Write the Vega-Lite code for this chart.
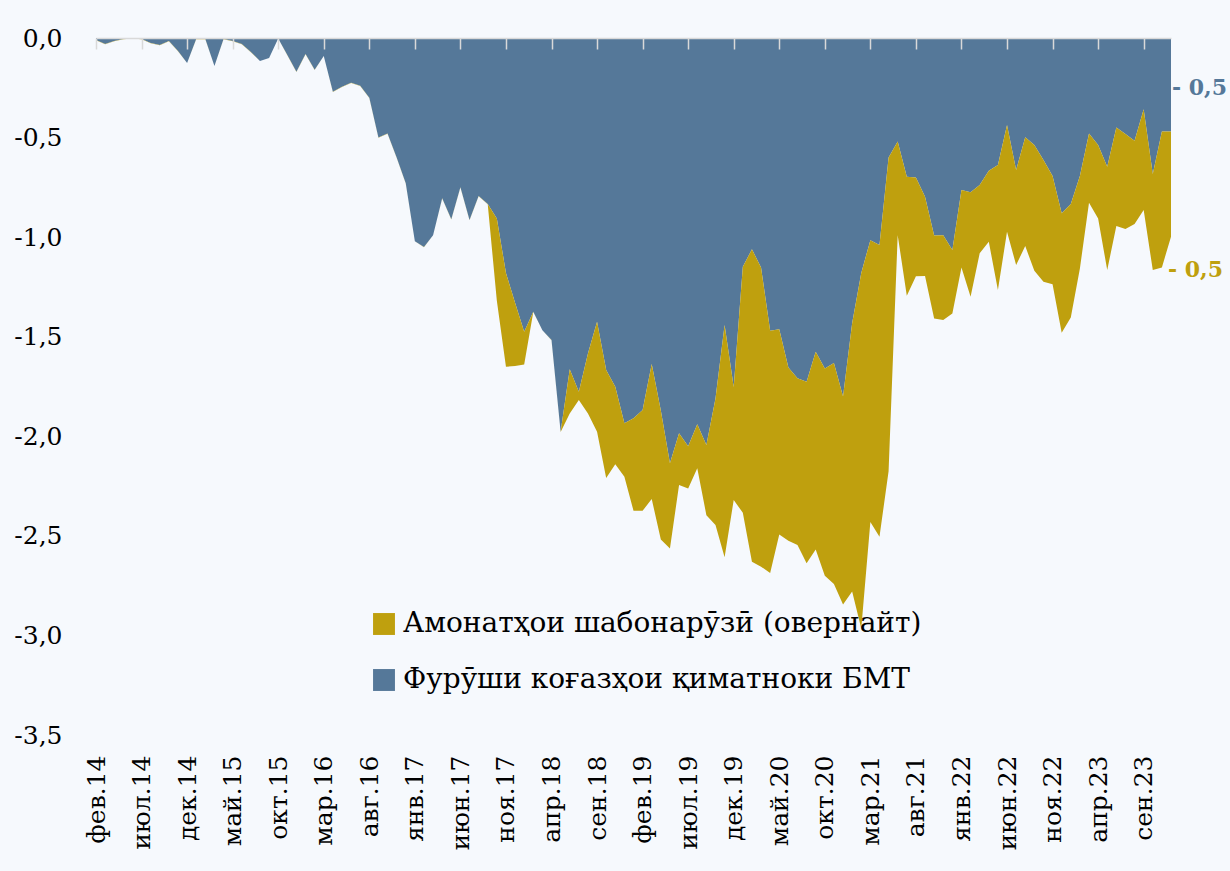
{
  "$schema": "https://vega.github.io/schema/vega-lite/v6.json",
  "width": 1075,
  "height": 697,
  "autosize": {"type": "none"},
  "padding": {"left": 96, "top": 38, "right": 59, "bottom": 136},
  "background": "#f6f9fd",
  "config": {"view": {"stroke": null}, "font": "DejaVu Serif"},
  "datasets": {
    "m": [
      {"d": "фев.14", "blue": -0.01, "gold": -0.001},
      {"d": "мар.14", "blue": -0.03, "gold": -0.001},
      {"d": "апр.14", "blue": -0.015, "gold": -0.001},
      {"d": "май.14", "blue": -0.005, "gold": -0.001},
      {"d": "июн.14", "blue": -0.002, "gold": -0.001},
      {"d": "июл.14", "blue": -0.005, "gold": -0.001},
      {"d": "авг.14", "blue": -0.025, "gold": -0.001},
      {"d": "сен.14", "blue": -0.035, "gold": -0.001},
      {"d": "окт.14", "blue": -0.015, "gold": -0.001},
      {"d": "ноя.14", "blue": -0.065, "gold": -0.001},
      {"d": "дек.14", "blue": -0.125, "gold": -0.001},
      {"d": "янв.15", "blue": -0.005, "gold": -0.001},
      {"d": "фев.15", "blue": -0.005, "gold": -0.001},
      {"d": "мар.15", "blue": -0.14, "gold": -0.001},
      {"d": "апр.15", "blue": -0.005, "gold": -0.001},
      {"d": "май.15", "blue": -0.015, "gold": -0.001},
      {"d": "июн.15", "blue": -0.03, "gold": -0.001},
      {"d": "июл.15", "blue": -0.07, "gold": -0.001},
      {"d": "авг.15", "blue": -0.115, "gold": -0.001},
      {"d": "сен.15", "blue": -0.1, "gold": -0.001},
      {"d": "окт.15", "blue": -0.002, "gold": -0.001},
      {"d": "ноя.15", "blue": -0.085, "gold": -0.001},
      {"d": "дек.15", "blue": -0.17, "gold": -0.001},
      {"d": "янв.16", "blue": -0.08, "gold": -0.001},
      {"d": "фев.16", "blue": -0.16, "gold": -0.001},
      {"d": "мар.16", "blue": -0.09, "gold": -0.001},
      {"d": "апр.16", "blue": -0.27, "gold": -0.001},
      {"d": "май.16", "blue": -0.245, "gold": -0.001},
      {"d": "июн.16", "blue": -0.225, "gold": -0.001},
      {"d": "июл.16", "blue": -0.24, "gold": -0.001},
      {"d": "авг.16", "blue": -0.3, "gold": -0.001},
      {"d": "сен.16", "blue": -0.5, "gold": -0.001},
      {"d": "окт.16", "blue": -0.48, "gold": -0.001},
      {"d": "ноя.16", "blue": -0.6, "gold": -0.001},
      {"d": "дек.16", "blue": -0.73, "gold": -0.001},
      {"d": "янв.17", "blue": -1.02, "gold": -0.001},
      {"d": "фев.17", "blue": -1.05, "gold": -0.001},
      {"d": "мар.17", "blue": -0.99, "gold": -0.001},
      {"d": "апр.17", "blue": -0.805, "gold": -0.001},
      {"d": "май.17", "blue": -0.91, "gold": -0.001},
      {"d": "июн.17", "blue": -0.75, "gold": -0.001},
      {"d": "июл.17", "blue": -0.914, "gold": -0.001},
      {"d": "авг.17", "blue": -0.794, "gold": -0.001},
      {"d": "сен.17", "blue": -0.834, "gold": -0.001},
      {"d": "окт.17", "blue": -0.906, "gold": -0.414},
      {"d": "ноя.17", "blue": -1.18, "gold": -0.471},
      {"d": "дек.17", "blue": -1.33, "gold": -0.317},
      {"d": "янв.18", "blue": -1.475, "gold": -0.165},
      {"d": "фев.18", "blue": -1.375, "gold": -0.001},
      {"d": "мар.18", "blue": -1.467, "gold": -0.001},
      {"d": "апр.18", "blue": -1.517, "gold": -0.001},
      {"d": "май.18", "blue": -1.977, "gold": -0.001},
      {"d": "июн.18", "blue": -1.664, "gold": -0.221},
      {"d": "июл.18", "blue": -1.776, "gold": -0.042},
      {"d": "авг.18", "blue": -1.584, "gold": -0.301},
      {"d": "сен.18", "blue": -1.425, "gold": -0.552},
      {"d": "окт.18", "blue": -1.667, "gold": -0.543},
      {"d": "ноя.18", "blue": -1.751, "gold": -0.389},
      {"d": "дек.18", "blue": -1.935, "gold": -0.268},
      {"d": "янв.19", "blue": -1.91, "gold": -0.464},
      {"d": "фев.19", "blue": -1.868, "gold": -0.506},
      {"d": "мар.19", "blue": -1.637, "gold": -0.678},
      {"d": "апр.19", "blue": -1.87, "gold": -0.648},
      {"d": "май.19", "blue": -2.135, "gold": -0.428},
      {"d": "июн.19", "blue": -1.985, "gold": -0.26},
      {"d": "июл.19", "blue": -2.05, "gold": -0.212},
      {"d": "авг.19", "blue": -1.94, "gold": -0.221},
      {"d": "сен.19", "blue": -2.044, "gold": -0.352},
      {"d": "окт.19", "blue": -1.81, "gold": -0.636},
      {"d": "ноя.19", "blue": -1.441, "gold": -1.167},
      {"d": "дек.19", "blue": -1.753, "gold": -0.567},
      {"d": "янв.20", "blue": -1.149, "gold": -1.235},
      {"d": "фев.20", "blue": -1.061, "gold": -1.569},
      {"d": "мар.20", "blue": -1.152, "gold": -1.503},
      {"d": "апр.20", "blue": -1.47, "gold": -1.216},
      {"d": "май.20", "blue": -1.463, "gold": -1.03},
      {"d": "июн.20", "blue": -1.655, "gold": -0.87},
      {"d": "июл.20", "blue": -1.708, "gold": -0.838},
      {"d": "авг.20", "blue": -1.726, "gold": -0.912},
      {"d": "сен.20", "blue": -1.576, "gold": -0.992},
      {"d": "окт.20", "blue": -1.66, "gold": -1.04},
      {"d": "ноя.20", "blue": -1.632, "gold": -1.11},
      {"d": "дек.20", "blue": -1.8, "gold": -1.045},
      {"d": "янв.21", "blue": -1.432, "gold": -1.348},
      {"d": "фев.21", "blue": -1.18, "gold": -1.785},
      {"d": "мар.21", "blue": -1.015, "gold": -1.415},
      {"d": "апр.21", "blue": -1.04, "gold": -1.465},
      {"d": "май.21", "blue": -0.6, "gold": -1.575},
      {"d": "июн.21", "blue": -0.52, "gold": -0.47},
      {"d": "июл.21", "blue": -0.697, "gold": -0.597},
      {"d": "авг.21", "blue": -0.7, "gold": -0.497},
      {"d": "сен.21", "blue": -0.797, "gold": -0.398},
      {"d": "окт.21", "blue": -0.992, "gold": -0.416},
      {"d": "ноя.21", "blue": -0.99, "gold": -0.426},
      {"d": "дек.21", "blue": -1.065, "gold": -0.318},
      {"d": "янв.22", "blue": -0.763, "gold": -0.389},
      {"d": "фев.22", "blue": -0.775, "gold": -0.524},
      {"d": "мар.22", "blue": -0.738, "gold": -0.343},
      {"d": "апр.22", "blue": -0.666, "gold": -0.357},
      {"d": "май.22", "blue": -0.638, "gold": -0.628},
      {"d": "июн.22", "blue": -0.437, "gold": -0.536},
      {"d": "июл.22", "blue": -0.663, "gold": -0.477},
      {"d": "авг.22", "blue": -0.499, "gold": -0.546},
      {"d": "сен.22", "blue": -0.537, "gold": -0.632},
      {"d": "окт.22", "blue": -0.613, "gold": -0.611},
      {"d": "ноя.22", "blue": -0.693, "gold": -0.543},
      {"d": "дек.22", "blue": -0.88, "gold": -0.6},
      {"d": "янв.23", "blue": -0.834, "gold": -0.569},
      {"d": "фев.23", "blue": -0.693, "gold": -0.464},
      {"d": "мар.23", "blue": -0.479, "gold": -0.348},
      {"d": "апр.23", "blue": -0.537, "gold": -0.369},
      {"d": "май.23", "blue": -0.646, "gold": -0.519},
      {"d": "июн.23", "blue": -0.45, "gold": -0.494},
      {"d": "июл.23", "blue": -0.482, "gold": -0.477},
      {"d": "авг.23", "blue": -0.516, "gold": -0.418},
      {"d": "сен.23", "blue": -0.358, "gold": -0.506},
      {"d": "окт.23", "blue": -0.683, "gold": -0.482},
      {"d": "ноя.23", "blue": -0.47, "gold": -0.682},
      {"d": "дек.23", "blue": -0.47, "gold": -0.528}
    ]
  },
  "resolve": {"axis": {"x": "independent"}},
  "layer": [
    {
      "data": {"name": "m"},
      "transform": [{"fold": ["blue", "gold"], "as": ["key", "value"]}],
      "mark": {"type": "area", "interpolate": "linear"},
      "encoding": {
        "x": {
          "field": "d", "type": "ordinal", "sort": null,
          "scale": {"type": "point", "padding": 0},
          "axis": {
            "orient": "bottom", "title": null,
            "values": ["фев.14","июл.14","дек.14","май.15","окт.15","мар.16","авг.16","янв.17","июн.17","ноя.17","апр.18","сен.18","фев.19","июл.19","дек.19","май.20","окт.20","мар.21","авг.21","янв.22","июн.22","ноя.22","апр.23","сен.23"],
            "labelAngle": 270, "ticks": false, "domain": false, "grid": false,
            "labelPadding": 20, "labelFontSize": 25, "labelFont": "DejaVu Serif",
            "labelColor": "#000000", "labelOverlap": false, "labelBound": false, "labelFlush": false
          }
        },
        "y": {
          "field": "value", "type": "quantitative", "stack": "zero",
          "scale": {"domain": [-3.5, 0], "nice": false, "zero": false},
          "axis": {
            "title": null, "values": [0, -0.5, -1, -1.5, -2, -2.5, -3, -3.5],
            "labelExpr": "(datum.value < 0 ? '-' : '') + replace(format(abs(datum.value), '.1f'), '.', ',')",
            "domain": false, "ticks": false, "grid": false,
            "labelPadding": 34, "labelFontSize": 25, "labelFont": "DejaVu Serif", "labelColor": "#000000"
          }
        },
        "color": {
          "field": "key", "type": "nominal",
          "scale": {"domain": ["gold", "blue"], "range": ["#bfa00e", "#557899"]},
          "legend": {
            "orient": "none", "legendX": 274, "legendY": 572, "title": null,
            "symbolType": "square", "symbolSize": 480, "symbolStrokeWidth": 0, "symbolOpacity": 1,
            "labelFontSize": 28, "labelFont": "DejaVu Serif", "labelColor": "#000000",
            "labelLimit": 900, "labelOffset": 5, "rowPadding": 28,
            "labelExpr": "datum.label == 'gold' ? 'Амонатҳои шабонарӯзӣ (овернайт)' : 'Фурӯши коғазҳои қиматноки БМТ'"
          }
        },
        "order": {"field": "key", "sort": "ascending"}
      }
    },
    {
      "data": {"name": "m"},
      "mark": {"type": "point", "opacity": 0},
      "encoding": {
        "x": {
          "field": "d", "type": "ordinal", "sort": null,
          "scale": {"type": "point", "padding": 0},
          "axis": {
            "orient": "top", "title": null, "labels": false,
            "domain": true, "domainColor": "#d9d9d9", "domainWidth": 1.5,
            "ticks": false, "grid": false, "zindex": 2
          }
        }
      }
    },
    {
      "data": {"name": "m"},
      "mark": {"type": "point", "opacity": 0},
      "encoding": {
        "x": {
          "field": "d", "type": "ordinal", "sort": null,
          "scale": {"type": "point", "padding": 0},
          "axis": {
            "orient": "top", "title": null, "labels": false, "offset": -11,
            "values": ["фев.14","июл.14","дек.14","май.15","окт.15","мар.16","авг.16","янв.17","июн.17","ноя.17","апр.18","сен.18","фев.19","июл.19","дек.19","май.20","окт.20","мар.21","авг.21","янв.22","июн.22","ноя.22","апр.23","сен.23"],
            "domain": false,
            "ticks": true, "tickColor": "#d9d9d9", "tickWidth": 1.5, "tickSize": 11,
            "grid": false, "zindex": 2
          }
        }
      }
    },
    {
      "data": {"values": [{"d": "дек.23", "v": -0.251}]},
      "mark": {"type": "text", "text": "- 0,5", "align": "left", "baseline": "middle", "dx": 1, "fontSize": 22, "fontWeight": "bold", "font": "DejaVu Serif", "color": "#557899"},
      "encoding": {
        "x": {"field": "d", "type": "ordinal", "sort": null, "axis": null},
        "y": {"field": "v", "type": "quantitative"}
      }
    },
    {
      "data": {"values": [{"d": "дек.23", "v": -1.165}]},
      "mark": {"type": "text", "text": "- 0,5", "align": "left", "baseline": "middle", "dx": -3, "fontSize": 22, "fontWeight": "bold", "font": "DejaVu Serif", "color": "#bfa00e"},
      "encoding": {
        "x": {"field": "d", "type": "ordinal", "sort": null, "axis": null},
        "y": {"field": "v", "type": "quantitative"}
      }
    }
  ]
}
